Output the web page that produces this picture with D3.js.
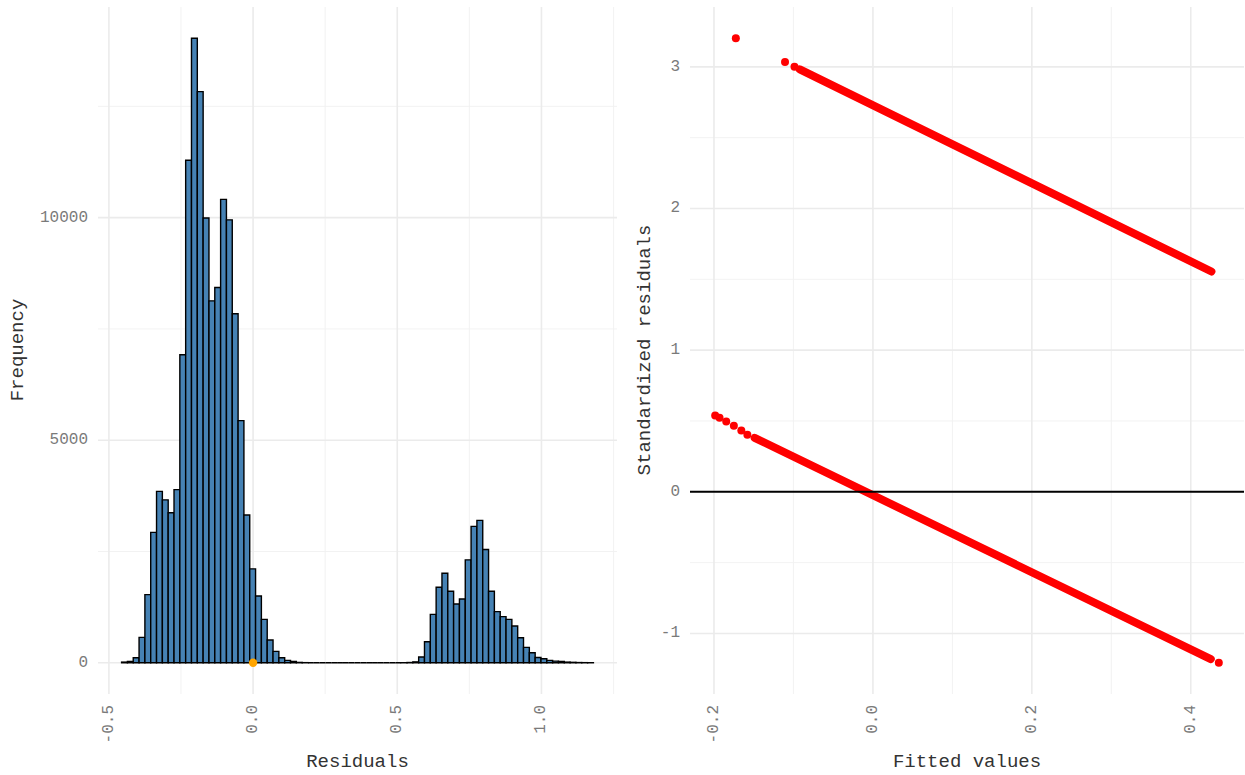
<!DOCTYPE html>
<html>
<head>
<meta charset="utf-8">
<script src="https://cdn.jsdelivr.net/npm/d3@7"></script>
<style>
  body { margin: 0; background: #ffffff; }
  svg text { font-family: "Liberation Mono", "Courier New", monospace; }
</style>
</head>
<body>
<svg id="svg1" width="1245" height="775"></svg>
<script>
// histogram of residuals (81 bins)
var binLow = -0.456;
var binWidth = 0.0202;
var binCounts = [15, 30, 113, 570, 1530, 2930, 3850, 3660, 3370, 3890,
    6920, 11290, 14030, 12830, 9990, 8130, 8430, 10410, 9950, 7840,
    5440, 3320, 2110, 1500, 976, 510, 255, 113, 53, 30,
    8, 3, 0, 0, 0, 0, 0, 0, 0, 0,
    0, 0, 0, 0, 0, 0, 0, 0, 2, 6,
    20, 128, 473, 1088, 1697, 2012, 1606, 1321, 1434, 2312,
    3063, 3198, 2545, 1606, 1149, 1036, 976, 826, 563, 345,
    225, 120, 90, 53, 38, 30, 15, 10, 5, 3, 2];
var meanResidual = [0, 0];   // orange marker

var histXTicks = [-0.5, 0.0, 0.5, 1.0];
var histXLabels = ['-0.5', '0.0', '0.5', '1.0'];
var histXMinor = [-0.25, 0.25, 0.75, 1.25];
var histYTicks = [0, 5000, 10000];
var histYLabels = ['0', '5000', '10000'];
var histYMinor = [2500, 7500, 12500];

// residuals vs fitted: separate dots and the dense runs of overlapping dots
var fittedDots = [-0.1985, -0.193, -0.1846, -0.175, -0.1656, -0.158, 0.4353, -0.1725, -0.1106, -0.0987];
var residDots = [0.538, 0.522, 0.496, 0.466, 0.433, 0.402, -1.207, 3.202, 3.035, 3.001];
var runFittedFrom = [-0.1488, -0.092];
var runResidFrom = [0.381, 2.982];
var runFittedTo = [0.4252, 0.426];
var runResidTo = [-1.181, 1.555];

var fitXTicks = [-0.2, 0.0, 0.2, 0.4];
var fitXLabels = ['-0.2', '0.0', '0.2', '0.4'];
var fitXMinor = [-0.1, 0.1, 0.3];
var fitYTicks = [-1, 0, 1, 2, 3];
var fitYLabels = ['-1', '0', '1', '2', '3'];
var fitYMinor = [-0.5, 0.5, 1.5, 2.5];

var svg = d3.select('#svg1');

var panelTop = 7;
var panelBottom = 693;

// ggplot style 5% expansion
function expand(lo, hi) {
    var pad = (hi - lo) * 0.05;
    return [lo - pad, hi + pad];
}

function drawGrid(g, x, y, xMajor, xMinor, yMajor, yMinor) {
    var xr = x.range(), yr = y.range();
    g.selectAll('.gxm').data(xMinor).enter().append('line')
        .attr('x1', x).attr('x2', x).attr('y1', yr[0]).attr('y2', yr[1])
        .attr('stroke', '#f1f1f1').attr('stroke-width', 0.9);
    g.selectAll('.gym').data(yMinor).enter().append('line')
        .attr('y1', y).attr('y2', y).attr('x1', xr[0]).attr('x2', xr[1])
        .attr('stroke', '#f1f1f1').attr('stroke-width', 0.9);
    g.selectAll('.gx').data(xMajor).enter().append('line')
        .attr('x1', x).attr('x2', x).attr('y1', yr[0]).attr('y2', yr[1])
        .attr('stroke', '#ebebeb').attr('stroke-width', 1.6);
    g.selectAll('.gy').data(yMajor).enter().append('line')
        .attr('y1', y).attr('y2', y).attr('x1', xr[0]).attr('x2', xr[1])
        .attr('stroke', '#ebebeb').attr('stroke-width', 1.6);
}

function drawAxes(g, x, y, xTicks, xLabels, yTicks, yLabels, xTitle, yTitle, yTitleX) {
    var xr = x.range();
    g.selectAll('.xl').data(xTicks).enter().append('text')
        .attr('transform', function(d) { return 'translate(' + x(d) + ',705) rotate(-90)'; })
        .attr('text-anchor', 'end')
        .attr('dominant-baseline', 'central')
        .attr('font-size', 16)
        .attr('fill', '#7a7a7a')
        .text(function(d, i) { return xLabels[i]; });
    g.selectAll('.yl').data(yTicks).enter().append('text')
        .attr('x', xr[0] - 10)
        .attr('y', y)
        .attr('text-anchor', 'end')
        .attr('dominant-baseline', 'central')
        .attr('font-size', 16)
        .attr('fill', '#7a7a7a')
        .text(function(d, i) { return yLabels[i]; });
    g.append('text')
        .attr('x', (xr[0] + xr[1]) / 2)
        .attr('y', 767)
        .attr('text-anchor', 'middle')
        .attr('font-size', 19)
        .attr('fill', '#333333')
        .text(xTitle);
    g.append('text')
        .attr('transform', 'translate(' + yTitleX + ',' + ((panelTop + panelBottom) / 2) + ') rotate(-90)')
        .attr('text-anchor', 'middle')
        .attr('dominant-baseline', 'central')
        .attr('font-size', 19)
        .attr('fill', '#333333')
        .text(yTitle);
}

// ---------- left: histogram ----------
var histX = d3.scaleLinear()
    .domain(expand(binLow, binLow + binCounts.length * binWidth))
    .range([98, 617]);
var histY = d3.scaleLinear()
    .domain(expand(0, d3.max(binCounts)))
    .range([panelBottom + 1, panelTop]);

var left = svg.append('g');
drawGrid(left, histX, histY, histXTicks, histXMinor, histYTicks, histYMinor);

left.selectAll('path.bar')
    .data(binCounts)
    .enter()
    .append('path')
    .attr('class', 'bar')
    .attr('d', function(d, i) {
        var x0 = histX(binLow + i * binWidth), x1 = histX(binLow + (i + 1) * binWidth);
        return 'M' + x0 + ',' + histY(0) + 'V' + histY(d) + 'H' + x1 + 'V' + histY(0) + 'Z';
    })
    .attr('fill', 'steelblue')
    .attr('stroke', 'black')
    .attr('stroke-width', 1.4)
    .attr('stroke-linejoin', 'miter');

left.append('circle')
    .attr('cx', histX(meanResidual[0]))
    .attr('cy', histY(meanResidual[1]))
    .attr('r', 4.2)
    .attr('fill', 'orange');

drawAxes(left, histX, histY, histXTicks, histXLabels, histYTicks, histYLabels, 'Residuals', 'Frequency', 18);

// ---------- right: standardized residuals vs fitted ----------
var allFitted = fittedDots.concat(runFittedFrom, runFittedTo);
var allResid = residDots.concat(runResidFrom, runResidTo);

var fitX = d3.scaleLinear()
    .domain(expand(d3.min(allFitted), d3.max(allFitted)))
    .range([690, 1244]);
var fitY = d3.scaleLinear()
    .domain(expand(d3.min(allResid), d3.max(allResid)))
    .range([694, 7]);

var right = svg.append('g');
drawGrid(right, fitX, fitY, fitXTicks, fitXMinor, fitYTicks, fitYMinor);

// dense runs of overlapping points
right.selectAll('line.run')
    .data(runFittedFrom)
    .enter()
    .append('line')
    .attr('class', 'run')
    .attr('x1', function(d) { return fitX(d); })
    .attr('y1', function(d, i) { return fitY(runResidFrom[i]); })
    .attr('x2', function(d, i) { return fitX(runFittedTo[i]); })
    .attr('y2', function(d, i) { return fitY(runResidTo[i]); })
    .attr('stroke', 'red')
    .attr('stroke-width', 8)
    .attr('stroke-linecap', 'round');

right.selectAll('circle')
    .data(fittedDots)
    .enter()
    .append('circle')
    .attr('cx', function(d) { return fitX(d); })
    .attr('cy', function(d, i) { return fitY(residDots[i]); })
    .attr('r', 4)
    .attr('fill', 'red');

// reference line at zero
right.append('line')
    .attr('x1', 690).attr('x2', 1244)
    .attr('y1', fitY(0)).attr('y2', fitY(0))
    .attr('stroke', 'black')
    .attr('stroke-width', 2);

drawAxes(right, fitX, fitY, fitXTicks, fitXLabels, fitYTicks, fitYLabels, 'Fitted values', 'Standardized residuals', 645);
</script>
</body>
</html>
